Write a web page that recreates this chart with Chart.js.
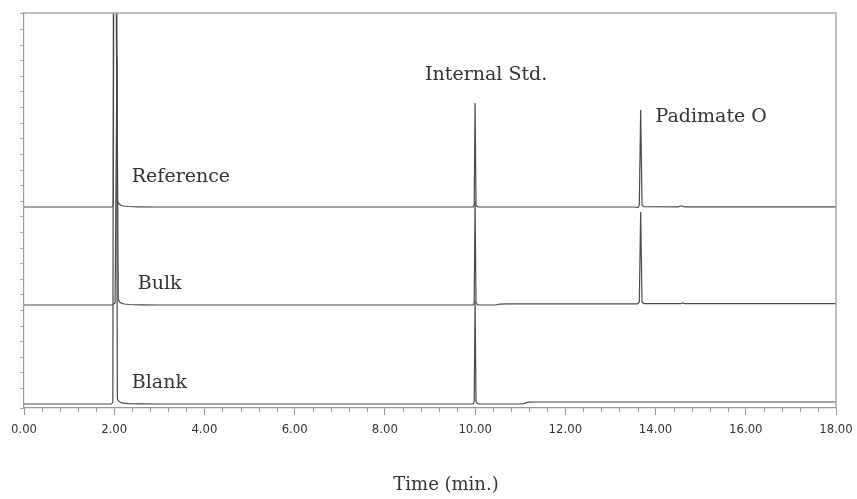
<!DOCTYPE html>
<html>
<head>
<meta charset="utf-8">
<script src="https://cdn.jsdelivr.net/npm/chart.js@4"></script>
<style>
html,body{margin:0;padding:0;background:#fff;}
#wrap{width:857px;height:499px;}
</style>
</head>
<body>
<div id="wrap"><canvas id="c" width="857" height="499"></canvas></div>
<script>
// Tick labels (minutes)
const xTickLabels = ["0.00","2.00","4.00","6.00","8.00","10.00","12.00","14.00","16.00","18.00"];

// Reference trace (offset baseline 197)
const refTime   = [0, 1.95, 1.98, 2.00, 2.04, 2.07, 2.10, 2.14, 2.20, 2.32, 2.55, 3.0, 9.96, 9.98, 10.00, 10.02, 10.05, 10.10, 13.55, 13.58, 13.62, 13.64, 13.67, 13.70, 13.74, 14.50, 14.57, 14.64, 18.0];
const refSignal = [197, 197, 199, 700, 700, 203, 200.5, 199, 198, 197.5, 197.2, 197, 197, 199, 301, 199, 197.3, 197, 197, 196.4, 197, 199, 294, 199, 197.3, 197.2, 198.2, 197.2, 197.2];

// Bulk trace (offset baseline 99)
const bulkTime   = [0, 1.95, 2.02, 2.06, 2.09, 2.12, 2.16, 2.22, 2.34, 2.6, 3.0, 9.96, 9.98, 10.00, 10.02, 10.05, 10.10, 10.45, 10.55, 10.70, 13.60, 13.64, 13.67, 13.70, 13.74, 14.55, 14.60, 14.65, 18.0];
const bulkSignal = [99, 99, 101, 347, 105, 102, 100.8, 100, 99.5, 99.2, 99, 99, 101.5, 203, 101.5, 99.3, 99, 99, 99.8, 100.2, 100.2, 102, 192, 102, 100.4, 100.3, 101, 100.3, 100.3];

// Blank trace (baseline 0)
const blankTime   = [0, 1.94, 1.97, 1.99, 2.03, 2.07, 2.10, 2.14, 2.20, 2.32, 2.55, 3.0, 9.96, 9.98, 10.00, 10.02, 10.05, 10.10, 10.95, 11.08, 11.18, 11.35, 18.0];
const blankSignal = [0, 0, 2, 700, 700, 5, 2.8, 1.6, 0.9, 0.4, 0.15, 0, 0, 2.5, 103, 2.5, 0.4, 0, 0, 0.4, 1.8, 2.0, 2.0];

// Peak / trace annotations: [text, time, signal]
const annotations = [
  ["Reference", 2.39, 227],
  ["Bulk", 2.52, 120],
  ["Blank", 2.39, 21],
  ["Internal Std.", 8.89, 329],
  ["Padimate O", 14.0, 287]
];
const xTitle = "Time (min.)";

const toPts = (t, s) => t.map((v, i) => ({x: v, y: s[i]}));
const lineColor = '#4a4a4a';

const decor = {
  id: 'decor',
  afterDraw(chart) {
    const {ctx, chartArea: a, scales: {x, y}} = chart;
    ctx.save();
    // frame top & right
    ctx.strokeStyle = '#a8a8a8';
    ctx.lineWidth = 1.5;
    ctx.beginPath();
    ctx.moveTo(a.left, a.top); ctx.lineTo(a.right, a.top); ctx.lineTo(a.right, a.bottom);
    ctx.stroke();
    // minor x ticks
    ctx.strokeStyle = '#999';
    ctx.lineWidth = 1;
    for (let k = 0; k <= 45; k++) {
      if (k % 5 === 0) continue;
      const px = Math.round(x.getPixelForValue(k * 0.4)) + 0.5;
      ctx.beginPath(); ctx.moveTo(px, a.bottom); ctx.lineTo(px, a.bottom + 4); ctx.stroke();
    }
    // annotations
    ctx.fillStyle = '#333';
    ctx.font = '19px "DejaVu Serif"';
    ctx.textBaseline = 'middle';
    ctx.textAlign = 'left';
    annotations.forEach(([t, tx, ty]) => {
      ctx.fillText(t, x.getPixelForValue(tx), y.getPixelForValue(ty));
    });
    // x title
    ctx.font = '18px "DejaVu Serif"';
    ctx.textAlign = 'center';
    ctx.fillText(xTitle, 446, 485);
    ctx.restore();
  }
};

const ds = (t, s) => ({
  data: toPts(t, s),
  borderColor: lineColor,
  borderWidth: 1.2,
  pointRadius: 0,
  tension: 0,
  fill: false
});

new Chart(document.getElementById('c'), {
  type: 'line',
  data: {
    datasets: [ds(refTime, refSignal), ds(bulkTime, bulkSignal), ds(blankTime, blankSignal)]
  },
  options: {
    responsive: false,
    animation: false,
    layout: {padding: {top: 13, right: 21, left: 0, bottom: 0}},
    plugins: {legend: {display: false}, tooltip: {enabled: false}},
    scales: {
      x: {
        type: 'linear',
        min: 0, max: 18,
        afterFit: s => { s.height = 91; s.paddingLeft = 0; s.paddingRight = 0; },
        border: {display: true, color: '#999', width: 1.2},
        grid: {drawOnChartArea: false, drawTicks: true, tickLength: 7, color: '#999'},
        ticks: {
          stepSize: 2,
          autoSkip: false,
          maxRotation: 0,
          padding: 7,
          color: '#333',
          font: {family: '"DejaVu Sans Condensed", "Liberation Sans"', size: 13},
          callback: (v) => xTickLabels[Math.round(v / 2)]
        }
      },
      y: {
        min: -4, max: 391,
        afterFit: s => { s.width = 24; },
        border: {display: true, color: '#999', width: 1.2},
        grid: {drawOnChartArea: false, drawTicks: true, tickLength: 4, color: '#aaa'},
        ticks: {display: false, stepSize: 15.6}
      }
    }
  },
  plugins: [decor]
});
</script>
</body>
</html>
